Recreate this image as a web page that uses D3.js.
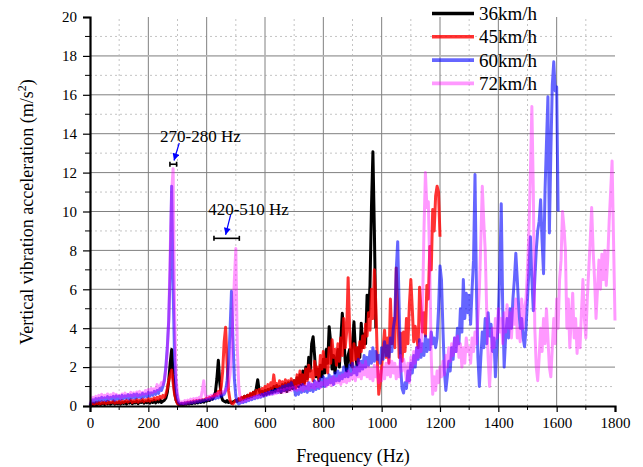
<!DOCTYPE html>
<html>
<head>
<meta charset="utf-8">
<script src="https://cdn.jsdelivr.net/npm/d3@7/dist/d3.min.js"></script>
<style>
  body { margin: 0; background: #fff; }
  svg text { font-family: "Liberation Serif", "Times New Roman", Times, "DejaVu Serif", serif; fill: #000; }
</style>
</head>
<body>
<div class="canvas"></div>
<script>

var speeds = ["36km/h", "45km/h", "60km/h", "72km/h"];
var colors = ["#000000", "#ff0000", "#0000ff", "#ff00ff"];
var alphas = [1, 0.8, 0.6, 0.4];

var xTicks = d3.range(0, 1801, 200);
var yTicks = d3.range(0, 21, 2);

// spectrum bins are 5 Hz apart, starting at 0 Hz; amplitudes in m/s2
var binHz = 5;

var acc36 = [
  0,.05,.1,.04,.12,.06,.14,.08,.1,.16,.07,.15,.1,.18,.09,.14,.2,.1,.17,.12,
  .2,.1,.18,.13,.22,.1,.2,.15,.24,.12,.2,.16,.25,.12,.22,.18,.26,.14,.22,.17,
  .28,.15,.24,.18,.3,.16,.26,.2,.32,.18,.25,.3,.4,.7,1.3,2.2,2.9,1.6,.7,.3,
  .15,.06,.08,.1,.06,.12,.09,.14,.1,.16,.12,.18,.14,.2,.16,.22,.18,.25,.2,.28,
  .25,.32,.28,.4,.35,.5,.7,1.4,2.35,1.2,.5,.3,.25,.2,.28,.18,.22,.15,.2,.25,
  .3,.25,.35,.3,.42,.35,.5,.4,.55,.45,.6,.5,.7,.6,.9,1.35,.8,.6,.75,.55,
  .8,.6,.85,.65,.9,.7,1.0,.75,1.05,.8,1.0,.7,1.1,.8,1.15,.75,1.2,.85,1.25,.9,
  1.3,.95,1.45,1.0,1.6,1.1,1.8,1.2,2.0,1.4,2.5,1.8,3.2,3.56,2.6,1.5,1.9,1.3,2.1,1.5,
  2.4,1.7,2.9,2.2,4.08,3.3,1.9,2.6,1.7,2.4,2.9,2.0,3.4,4.77,3.6,2.3,1.8,2.6,2.9,2.1,
  3.2,4.33,2.9,2.1,3.0,2.5,4.26,3.0,3.7,3.2,5.7,4.6,6.2,10.2,13.07,9.0,4.0];

var acc45 = [
  .02,.1,.15,.08,.18,.12,.2,.1,.22,.14,.2,.12,.24,.15,.2,.18,.26,.14,.22,.17,
  .25,.15,.28,.18,.22,.3,.2,.26,.32,.18,.28,.22,.34,.2,.3,.25,.36,.22,.32,.26,
  .38,.25,.36,.3,.42,.32,.45,.35,.5,.4,.55,.45,.6,.9,1.3,1.6,1.85,1.2,.6,.3,
  .12,.08,.1,.14,.1,.16,.12,.2,.15,.22,.18,.26,.2,.28,.24,.3,.26,.32,.3,.35,
  .4,.32,.45,.38,.5,.45,.6,.55,.75,.65,1.0,1.8,3.3,4.05,2.2,.8,.3,.15,.1,.2,
  .3,.25,.38,.3,.45,.35,.5,.4,.55,.45,.65,.5,.7,.55,.8,.6,.85,.65,.9,.7,
  1.0,.75,1.1,.8,1.2,.9,1.6,1.0,1.15,.8,1.3,.9,1.25,.85,1.35,.95,1.3,.9,1.4,1.0,
  1.3,.9,1.6,1.1,1.8,1.2,1.6,1.1,1.9,1.3,2.1,1.5,1.8,1.3,2.3,1.6,2.0,1.4,2.6,1.9,
  2.8,2.0,2.4,1.7,3.0,2.2,3.4,2.5,2.9,2.1,3.2,2.3,3.5,2.6,4.5,3.0,3.8,6.6,4.0,2.4,
  2.0,3.2,2.4,3.0,2.2,3.3,2.8,3.6,3.0,4.2,3.6,4.8,3.9,6.0,4.5,7.0,5.2,2.5,.6,1.2,
  2.0,3.0,3.9,2.5,3.5,2.2,5.5,3.2,4.5,3.0,7.1,5.0,2.5,3.75,2.3,3.8,2.8,4.5,3.2,5.2,
  6.5,5.0,3.3,4.1,3.5,3.0,6.1,5.0,3.8,4.8,3.6,6.2,5.5,8.2,7.0,10.1,9.0,10.8,11.3,11.0,
  8.7];

var acc60 = [
  .05,.22,.32,.2,.38,.25,.4,.28,.45,.3,.42,.28,.48,.32,.45,.35,.5,.3,.52,.36,
  .5,.35,.55,.38,.52,.4,.58,.36,.56,.42,.6,.4,.62,.45,.58,.42,.65,.46,.62,.48,
  .7,.5,.68,.55,.75,.6,.8,.65,.9,.8,1.0,1.3,2.0,3.0,4.4,7.0,11.3,6.0,2.5,.9,
  .4,.15,.1,.14,.1,.16,.12,.18,.14,.2,.16,.22,.18,.25,.2,.28,.22,.3,.26,.32,
  .3,.36,.32,.4,.35,.42,.38,.48,.42,.52,.5,.55,.6,.8,1.3,2.2,3.8,5.9,3.5,1.4,
  .5,.2,.1,.15,.2,.18,.28,.22,.35,.28,.4,.32,.45,.38,.5,.42,.55,.45,.6,.5,
  .65,.55,.7,.6,.75,.62,.8,.68,.85,.7,.9,.75,1.0,.8,1.05,.85,1.1,.9,1.2,1.0,
  .9,.55,.8,.6,1.0,.7,1.1,.75,1.0,.7,1.2,.8,1.1,.75,1.3,.85,1.2,.9,1.4,1.0,
  1.5,1.0,1.4,1.1,1.6,1.2,1.5,1.1,1.7,1.3,1.8,1.3,1.7,1.4,2.0,1.5,1.9,1.5,2.1,1.6,
  2.2,1.7,2.0,1.6,2.4,1.8,2.3,1.9,2.6,2.0,2.5,2.1,2.8,2.2,3.0,2.3,2.8,2.4,2.6,2.2,
  3.0,2.4,3.3,2.6,3.1,2.5,3.5,2.8,4.0,4.5,7.0,8.45,5.0,2.0,.9,.67,1.2,.9,1.8,1.3,
  2.2,1.7,2.6,2.0,3.0,2.4,3.4,2.5,3.2,2.6,3.6,2.8,3.4,2.9,3.8,3.2,3.5,3.0,3.5,5.0,
  7.2,6.5,4.0,1.8,.8,1.5,2.3,1.8,3.0,2.4,3.5,2.8,4.0,3.2,5.0,3.8,6.5,4.5,5.8,4.8,
  5.7,4.2,6.0,7.5,11.9,6.0,2.5,1.0,2.5,3.8,3.0,4.5,3.2,4.8,3.6,4.2,2.8,3.5,1.5,3.0,
  4.5,7.0,10.4,5.0,2.0,3.5,4.5,3.5,5.0,4.0,5.5,6.5,7.85,6.5,5.0,4.0,4.5,3.5,3.05,4.0,
  5.5,7.0,8.7,6.5,4.9,6.5,8.0,9.0,9.5,10.6,8.5,6.8,11.0,13.5,15.9,8.9,13.0,16.5,17.7,16.2,
  16.4,10.0];

var acc72 = [
  .1,.3,.45,.32,.5,.38,.55,.4,.6,.42,.55,.45,.62,.4,.58,.48,.65,.45,.6,.5,
  .55,.42,.62,.48,.66,.5,.6,.52,.7,.5,.68,.55,.72,.52,.75,.58,.7,.6,.8,.62,
  .85,.65,.9,.7,.88,.75,1.1,.85,1.0,1.2,1.1,1.4,1.8,2.8,4.5,8.0,11.0,12.2,5.0,1.5,
  .6,.25,.18,.22,.15,.28,.2,.3,.25,.35,.28,.38,.3,.4,.35,.45,.4,.8,1.3,.6,
  .4,.5,.42,.55,.48,.6,.5,.65,.55,.7,.6,.75,.7,.85,.9,1.1,1.6,2.6,4.5,6.5,
  8.1,3.0,1.0,.4,.2,.3,.25,.35,.3,.4,.35,.45,.4,.5,.42,.55,.45,.58,.5,.6,
  .55,.65,.58,.7,.6,.72,.62,.75,.65,.8,.68,.82,.7,.85,.72,.9,.75,.92,.8,.95,
  .85,1.0,.8,1.05,.85,1.1,.8,1.0,.9,1.15,.85,1.2,.95,1.1,.9,1.25,1.0,1.3,.95,1.2,
  1.1,1.35,1.0,1.3,1.1,1.4,1.05,1.5,1.15,1.4,1.2,1.55,1.1,1.6,1.25,1.7,1.2,1.8,1.3,1.65,
  1.4,1.9,1.3,2.0,1.5,2.2,1.4,2.1,1.6,2.3,1.5,2.0,1.4,1.9,1.3,2.1,1.5,2.0,1.2,1.8,
  1.3,2.0,1.4,2.2,1.6,2.4,1.5,2.3,1.7,2.2,1.4,2.0,1.5,2.6,1.8,2.4,2.0,1.3,2.2,1.2,
  2.5,2.0,2.8,2.2,3.0,2.5,3.2,2.8,5.0,9.0,12.0,10.2,10.5,7.0,2.5,.6,1.5,.8,1.8,1.2,
  2.0,1.5,2.3,1.6,2.6,2.0,3.0,2.3,3.2,2.6,3.5,2.8,3.6,2.5,3.2,2.0,3.0,2.2,3.5,2.8,
  3.0,2.2,3.5,2.8,3.8,3.2,4.5,6.0,8.5,11.3,9.5,8.0,5.0,2.5,1.0,2.5,4.0,3.0,4.5,3.5,
  5.0,3.8,4.5,3.2,4.8,3.8,5.2,4.0,4.8,3.5,5.0,4.2,5.5,3.5,4.0,3.3,5.5,4.0,5.0,5.5,
  7.0,9.0,12.0,15.4,11.0,4.0,2.0,1.3,2.5,4.0,2.8,4.5,3.2,5.0,3.5,2.0,1.5,3.0,4.5,3.2,
  5.5,4.0,6.5,7.5,10.0,9.2,8.0,4.0,5.5,3.0,4.5,5.8,3.5,4.5,2.7,4.0,3.0,4.8,6.5,4.5,
  3.5,5.5,7.0,8.5,10.2,8.0,6.5,4.5,6.0,7.5,6.0,7.8,6.5,8.0,6.2,7.5,9.5,11.0,12.6,8.5,
  4.4];

var series = [acc36, acc45, acc60, acc72];

// frequency bands marked on the chart
var bandLabels = ["270-280 Hz", "420-510 Hz"];
var bandRanges = [[274, 297], [425, 512]];
var bandLevels = [12.43, 8.62];

var W = 643, H = 467;
var margin = { left: 90, top: 17, right: 28, bottom: 61 };

var svg = d3.select(".canvas")
  .append("svg:svg")
  .attr("width", W)
  .attr("height", H);

var x = d3.scaleLinear().domain([0, 1800]).range([margin.left, W - margin.right]);
var y = d3.scaleLinear().domain([0, 20]).range([H - margin.bottom, margin.top]);

// grid: dotted minor lines, solid major lines
var minorX = d3.range(100, 1800, 200);
var minorY = d3.range(1, 20, 2);
var majorX = xTicks.filter(function(d) { return d > 0 && d < 1800; });
var majorY = yTicks.filter(function(d) { return d > 0 && d < 20; });

var grid = svg.append("g");

grid.selectAll("line.mx").data(minorX).enter().append("line")
  .attr("x1", x).attr("x2", x)
  .attr("y1", y(0)).attr("y2", y(20))
  .attr("stroke", "#c4c4c4").attr("stroke-dasharray", "2,3");

grid.selectAll("line.my").data(minorY).enter().append("line")
  .attr("x1", x(0)).attr("x2", x(1800))
  .attr("y1", y).attr("y2", y)
  .attr("stroke", "#c4c4c4").attr("stroke-dasharray", "2,3");

grid.selectAll("line.gx").data(majorX).enter().append("line")
  .attr("x1", x).attr("x2", x)
  .attr("y1", y(0)).attr("y2", y(20))
  .attr("stroke", "#808080");

grid.selectAll("line.gy").data(majorY).enter().append("line")
  .attr("x1", x(0)).attr("x2", x(1800))
  .attr("y1", y).attr("y2", y)
  .attr("stroke", function(d) { return d == 18 ? "#b4b4b4" : "#808080"; })
  .attr("stroke-width", function(d) { return d == 18 ? 1.6 : 1; });

// spectra
var line = d3.line()
  .x(function(d, i) { return x(i * binHz); })
  .y(function(d) { return y(d); });

svg.append("g").selectAll("path").data(series).enter().append("path")
  .attr("d", line)
  .attr("fill", "none")
  .attr("stroke", function(d, i) { return colors[i]; })
  .attr("stroke-opacity", function(d, i) { return alphas[i]; })
  .attr("stroke-width", 3)
  .attr("stroke-linejoin", "round");

// axes
var xAxis = svg.append("g")
  .attr("transform", "translate(0," + y(0) + ")")
  .call(d3.axisBottom(x).tickValues(xTicks).tickSize(6).tickPadding(5).tickFormat(d3.format("d")));

xAxis.selectAll(".minor").data(minorX).enter().append("line")
  .attr("class", "minor")
  .attr("x1", x).attr("x2", x)
  .attr("y1", 0).attr("y2", 4)
  .attr("stroke", "#000");

var yAxis = svg.append("g")
  .attr("transform", "translate(" + x(0) + ",0)")
  .call(d3.axisLeft(y).tickValues(yTicks).tickSize(7).tickPadding(6).tickFormat(d3.format("d")));

yAxis.selectAll(".minor").data(minorY).enter().append("line")
  .attr("class", "minor")
  .attr("x1", -5).attr("x2", 0)
  .attr("y1", y).attr("y2", y)
  .attr("stroke", "#000");

svg.selectAll(".domain").attr("stroke-width", 2.2);
svg.selectAll(".tick line").attr("stroke-width", 1.2);
svg.selectAll(".tick text").style("font-size", "15px");

// axis titles
svg.append("text")
  .attr("x", 353)
  .attr("y", 462)
  .attr("text-anchor", "middle")
  .style("font-size", "18px")
  .text("Frequency (Hz)");

var ylab = svg.append("text")
  .attr("transform", "translate(33," + 212 + ")rotate(-90)")
  .attr("text-anchor", "middle")
  .style("font-size", "18px");
ylab.append("tspan").text("Vertical vibration acceleration (m/s");
ylab.append("tspan").attr("dy", -7).style("font-size", "12px").text("2");
ylab.append("tspan").attr("dy", 7).text(")");

// legend
var legend = svg.append("g").selectAll("g").data(speeds).enter().append("g")
  .attr("transform", function(d, i) { return "translate(432," + (13.5 + i * 23.3) + ")"; });

legend.append("line")
  .attr("x1", 0).attr("x2", 42)
  .attr("stroke", function(d, i) { return colors[i]; })
  .attr("stroke-opacity", function(d, i) { return alphas[i]; })
  .attr("stroke-width", 3.6);

legend.append("text")
  .attr("x", 47).attr("y", 6.5)
  .style("font-size", "19px")
  .text(function(d) { return d; });

// band markers with arrows
svg.append("defs").append("marker")
  .attr("id", "head")
  .attr("viewBox", "0 0 10 10")
  .attr("refX", 10).attr("refY", 5)
  .attr("markerUnits", "userSpaceOnUse")
  .attr("markerWidth", 9).attr("markerHeight", 7)
  .attr("orient", "auto")
  .append("path")
  .attr("d", "M0,0L10,5L0,10z")
  .attr("fill", "#0000ff");

var textPos = [[240, 13.57], [405, 9.82]];
var arrowFrom = [[306, 13.52], [482, 9.82]];
var arrowTo = [[288, 12.62], [465, 8.8]];

bandLabels.forEach(function(lbl, i) {
  var r = bandRanges[i];
  var yy = y(bandLevels[i]);
  var g = svg.append("g").attr("stroke", "#000").attr("stroke-width", 1.6);
  g.append("line").attr("x1", x(r[0])).attr("x2", x(r[1])).attr("y1", yy).attr("y2", yy);
  g.append("line").attr("x1", x(r[0])).attr("x2", x(r[0])).attr("y1", yy - 2.5).attr("y2", yy + 2.5);
  g.append("line").attr("x1", x(r[1])).attr("x2", x(r[1])).attr("y1", yy - 2.5).attr("y2", yy + 2.5);

  svg.append("line")
    .attr("x1", x(arrowFrom[i][0])).attr("y1", y(arrowFrom[i][1]))
    .attr("x2", x(arrowTo[i][0])).attr("y2", y(arrowTo[i][1]))
    .attr("stroke", "#0000ff").attr("stroke-width", 1.2)
    .attr("marker-end", "url(#head)");

  svg.append("text")
    .attr("x", x(textPos[i][0])).attr("y", y(textPos[i][1]))
    .style("font-size", "17px")
    .text(lbl);
});

</script>
</body>
</html>
